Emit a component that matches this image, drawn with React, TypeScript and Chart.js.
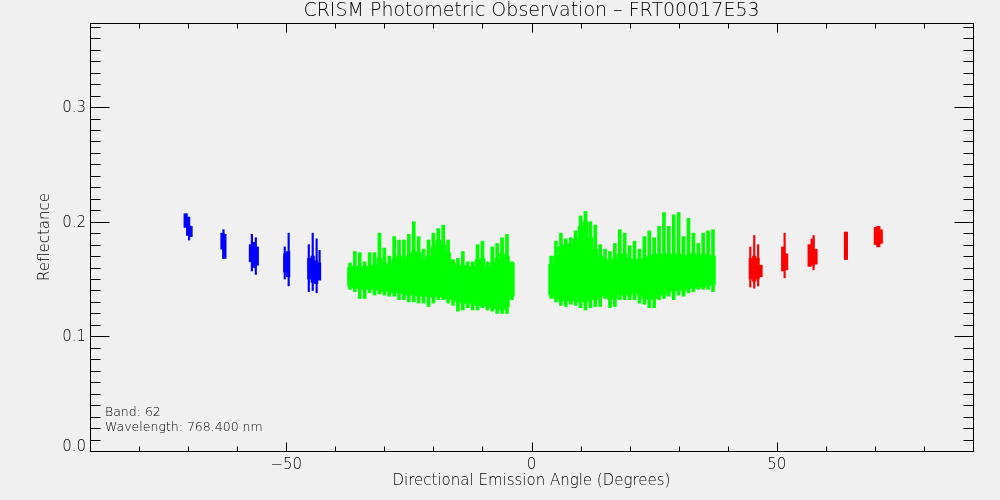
import { useEffect, useRef } from 'react';
import { Chart, registerables } from 'chart.js';

Chart.register(...registerables);

// Emission angle (deg) columns of the nadir cloud, left half
const greenLeftX = [-37, -36, -35, -34, -33, -32, -31, -30, -29, -28, -27, -26, -25, -24, -23, -22, -21,
  -20, -19, -18, -17, -16, -15, -14, -13, -12, -11, -10, -9, -8, -7, -6, -5, -4];
const greenLeftLo = [0.144, 0.142, 0.142, 0.141, 0.141, 0.141, 0.140, 0.139, 0.139, 0.138, 0.138, 0.137, 0.136,
  0.136, 0.135, 0.135, 0.135, 0.134, 0.135, 0.134, 0.133, 0.132, 0.130, 0.129, 0.129, 0.128, 0.127, 0.127, 0.126,
  0.125, 0.124, 0.123, 0.126, 0.135];
const greenLeftHi = [0.160, 0.161, 0.161, 0.161, 0.161, 0.162, 0.168, 0.164, 0.162, 0.167, 0.170, 0.167, 0.170,
  0.174, 0.173, 0.167, 0.170, 0.178, 0.184, 0.180, 0.173, 0.164, 0.161, 0.162, 0.161, 0.161, 0.167, 0.168, 0.161,
  0.164, 0.168, 0.172, 0.170, 0.164];
const greenLeftSprayLo = [0.141, 0.139, 0.133, 0.133, 0.138, 0.136, 0.137, 0.136, 0.135, 0.135, 0.132, 0.132,
  0.130, 0.130, 0.129, 0.129, 0.126, 0.129, 0.132, 0.132, 0.129, 0.127, 0.122, 0.123, 0.125, 0.123, 0.123, 0.125,
  0.123, 0.122, 0.120, 0.120, 0.120, 0.132];
const greenLeftSprayHi = [0.164, 0.174, 0.173, 0.165, 0.173, 0.173, 0.190, 0.177, 0.170, 0.187, 0.184, 0.184,
  0.189, 0.200, 0.187, 0.176, 0.184, 0.190, 0.194, 0.197, 0.184, 0.167, 0.168, 0.174, 0.165, 0.165, 0.180, 0.183,
  0.165, 0.178, 0.181, 0.186, 0.189, 0.165];

// nadir cloud, right half
const greenRightX = [4, 5, 6, 7, 8, 9, 10, 11, 12, 13, 14, 15, 16, 17, 18, 19, 20, 21, 22, 23, 24, 25, 26, 27,
  28, 29, 30, 31, 32, 33, 34, 35, 36, 37];
const greenRightLo = [0.136, 0.133, 0.131, 0.131, 0.131, 0.131, 0.130, 0.130, 0.132, 0.132, 0.135, 0.135, 0.132,
  0.133, 0.136, 0.136, 0.136, 0.138, 0.136, 0.133, 0.132, 0.133, 0.136, 0.136, 0.139, 0.140, 0.140, 0.140, 0.142,
  0.142, 0.143, 0.143, 0.144, 0.145];
const greenRightHi = [0.163, 0.170, 0.178, 0.180, 0.181, 0.185, 0.196, 0.200, 0.186, 0.176, 0.170, 0.167, 0.166,
  0.168, 0.172, 0.172, 0.168, 0.167, 0.167, 0.168, 0.170, 0.171, 0.172, 0.172, 0.172, 0.171, 0.172, 0.170, 0.171,
  0.172, 0.170, 0.172, 0.171, 0.170];
const greenRightSprayLo = [0.133, 0.130, 0.127, 0.126, 0.128, 0.127, 0.125, 0.123, 0.125, 0.126, 0.126, 0.133,
  0.125, 0.126, 0.132, 0.132, 0.132, 0.132, 0.129, 0.128, 0.125, 0.125, 0.132, 0.133, 0.135, 0.132, 0.136, 0.135,
  0.138, 0.139, 0.141, 0.141, 0.141, 0.139];
const greenRightSprayHi = [0.170, 0.183, 0.190, 0.185, 0.186, 0.192, 0.205, 0.209, 0.200, 0.197, 0.180, 0.176,
  0.174, 0.181, 0.193, 0.190, 0.179, 0.183, 0.176, 0.187, 0.192, 0.186, 0.196, 0.208, 0.196, 0.206, 0.208, 0.187,
  0.203, 0.190, 0.181, 0.190, 0.192, 0.193];

// backward-looking (blue) off-nadir strips
const blueX = [-70.5, -70.0, -69.5, -63.0, -62.6, -57.2, -56.6, -56.0, -50.2, -49.6, -45.3, -44.6, -43.9, -43.3];
const blueLo = [0.195, 0.188, 0.187, 0.176, 0.168, 0.165, 0.160, 0.162, 0.156, 0.152, 0.150, 0.147, 0.146, 0.149];
const blueHi = [0.207, 0.204, 0.196, 0.190, 0.189, 0.180, 0.182, 0.178, 0.172, 0.174, 0.168, 0.170, 0.166, 0.164];
const blueSprayX = [-69.8, -62.8, -57.0, -56.2, -50.3, -49.5, -45.4, -44.6, -43.8, -43.2];
const blueSprayLo = [0.184, 0.168, 0.157, 0.154, 0.150, 0.144, 0.139, 0.140, 0.138, 0.150];
const blueSprayHi = [0.197, 0.193, 0.189, 0.186, 0.178, 0.190, 0.180, 0.190, 0.185, 0.175];

// forward-looking (red) off-nadir strips
const redX = [44.7, 45.4, 46.1, 46.7, 51.3, 51.9, 56.7, 57.3, 57.9, 64.1, 70.2, 70.7, 71.2];
const redLo = [0.150, 0.148, 0.150, 0.152, 0.157, 0.158, 0.161, 0.162, 0.163, 0.167, 0.180, 0.178, 0.181];
const redHi = [0.168, 0.170, 0.168, 0.162, 0.178, 0.172, 0.180, 0.185, 0.176, 0.191, 0.195, 0.196, 0.193];
const redSprayX = [44.6, 45.4, 46.2, 51.6, 57.5];
const redSprayLo = [0.143, 0.142, 0.144, 0.151, 0.158];
const redSprayHi = [0.178, 0.188, 0.180, 0.190, 0.188];

const xTickValues = [-50, 0, 50];
const xTickLabels = ['\u221250', '0', '50'];
const yTickValues = [0, 0.1, 0.2, 0.3];
const yTickLabels = ['0.0', '0.1', '0.2', '0.3'];

const FONT = '"DejaVu Sans", sans-serif';

function columns(xs: number[], lo: number[], hi: number[]) {
  return xs.map((x, i) => ({ x, y: [lo[i], hi[i]] }));
}

function bars(data: any[], color: string, thickness: number) {
  return {
    type: 'bar' as const,
    data,
    backgroundColor: color,
    borderWidth: 0,
    barThickness: thickness,
    grouped: false,
  };
}

// IDL style box with inward ticks on all four sides
const idlAxes = {
  id: 'idlAxes',
  afterDraw(chart: any) {
    const { ctx, chartArea: a, scales } = chart;
    const xs = scales.x;
    const ys = scales.y;
    const L = Math.round(a.left) + 0.5;
    const R = Math.round(a.right) + 0.5;
    const T = Math.round(a.top) + 0.5;
    const B = Math.round(a.bottom) + 0.5;

    ctx.save();
    ctx.strokeStyle = '#000';
    ctx.lineWidth = 1;
    ctx.strokeRect(L, T, R - L, B - T);

    ctx.beginPath();
    for (let v = -80; v <= 80; v += 10) {
      const px = Math.round(xs.getPixelForValue(v)) + 0.5;
      const len = v % 50 === 0 ? 9 : 5;
      ctx.moveTo(px, B);
      ctx.lineTo(px, B - len);
      ctx.moveTo(px, T);
      ctx.lineTo(px, T + len);
    }
    for (let i = 1; i <= 37; i++) {
      const py = Math.round(ys.getPixelForValue(i / 100)) + 0.5;
      const len = i % 10 === 0 ? 19 : 10;
      ctx.moveTo(L, py);
      ctx.lineTo(L + len, py);
      ctx.moveTo(R, py);
      ctx.lineTo(R - len, py);
    }
    ctx.stroke();

    ctx.fillStyle = '#000';
    ctx.font = `200 15px ${FONT}`;
    ctx.textBaseline = 'middle';
    ctx.textAlign = 'center';
    xTickValues.forEach((v, i) => {
      ctx.fillText(xTickLabels[i], xs.getPixelForValue(v), a.bottom + 14);
    });
    ctx.textAlign = 'right';
    yTickValues.forEach((v, i) => {
      const py = Math.min(ys.getPixelForValue(v), a.bottom - 5);
      ctx.fillText(yTickLabels[i], a.left - 4, py + 1);
    });

    ctx.textAlign = 'center';
    ctx.fillText('Directional Emission Angle (Degrees)', (a.left + a.right) / 2, a.bottom + 30);
    ctx.save();
    ctx.translate(45, (a.top + a.bottom) / 2);
    ctx.rotate(-Math.PI / 2);
    ctx.fillText('Reflectance', 0, 0);
    ctx.restore();

    ctx.font = `200 19px ${FONT}`;
    ctx.fillText('CRISM Photometric Observation \u2013 FRT00017E53', (a.left + a.right) / 2, 11);

    ctx.font = `200 12.5px ${FONT}`;
    ctx.textAlign = 'left';
    ctx.fillText('Band: 62', a.left + 15, 413);
    ctx.fillText('Wavelength: 768.400 nm', a.left + 15, 428);
    ctx.restore();
  },
};

export default function App() {
  const canvasRef = useRef<HTMLCanvasElement>(null);
  const chartRef = useRef<Chart | null>(null);

  useEffect(() => {
    if (!canvasRef.current) return;
    if (chartRef.current) chartRef.current.destroy();

    const green = '#00ff00';
    chartRef.current = new Chart(canvasRef.current, {
      type: 'bar',
      data: {
        datasets: [
          bars(columns(blueSprayX, blueSprayLo, blueSprayHi), '#0000ff', 1.5),
          bars(columns(blueX, blueLo, blueHi), '#0000ff', 3.5),
          bars(columns(greenLeftX, greenLeftSprayLo, greenLeftSprayHi), green, 3),
          bars(columns(greenLeftX, greenLeftLo, greenLeftHi), green, 5),
          bars(columns(greenRightX, greenRightSprayLo, greenRightSprayHi), green, 3),
          bars(columns(greenRightX, greenRightLo, greenRightHi), green, 5),
          bars(columns(redSprayX, redSprayLo, redSprayHi), '#ff0000', 1.5),
          bars(columns(redX, redLo, redHi), '#ff0000', 3.5),
        ] as any,
      },
      options: {
        responsive: false,
        devicePixelRatio: 1,
        animation: false,
        layout: { padding: { left: 90, right: 27, top: 23, bottom: 49 } },
        plugins: {
          legend: { display: false },
          tooltip: { enabled: false },
        },
        scales: {
          x: { type: 'linear', min: -90, max: 90, offset: false, display: false },
          y: { type: 'linear', min: 0, max: 0.3733, display: false },
        },
      },
      plugins: [idlAxes],
    });

    return () => {
      if (chartRef.current) {
        chartRef.current.destroy();
        chartRef.current = null;
      }
    };
  }, []);

  return (
    <div style={{ position: 'fixed', left: 0, top: 0, width: 1000, height: 500, background: '#f0f0f0' }}>
      <canvas ref={canvasRef} width={1000} height={500} style={{ display: 'block' }} />
    </div>
  );
}
